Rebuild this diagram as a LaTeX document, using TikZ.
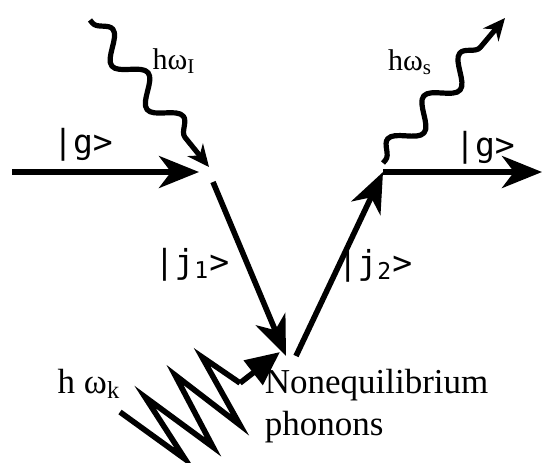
\documentclass[tikz,border=0pt]{standalone}
\usepackage{fontspec}
\setmainfont{Liberation Serif}
\newfontfamily\ketfont{DejaVu Sans Mono}
\usepackage{tikz}
\usetikzlibrary{arrows.meta, decorations.pathmorphing}
\tikzset{
  ket/.style={font=\ketfont\fontsize{16.5}{18}\selectfont, inner sep=0pt},
  freq/.style={font=\fontsize{15}{17}\selectfont, inner sep=0pt},
  phlabel/.style={font=\fontsize{17.5}{21}\selectfont, inner sep=0pt},
  photon/.style={decorate, line width=2.6pt, line join=round,
    decoration={snake, amplitude=6pt, segment length=28pt,
      pre length=2pt, post length=10pt},
    -{Stealth[length=11pt, width=10pt]}},
  phonon/.style={line width=2.8pt, line join=miter},
}

\begin{document}
\begin{tikzpicture}[x=0.5pt, y=-0.5pt, line width=2.8pt,
    >={Stealth[length=20pt, width=16pt, inset=6pt]}]
    \useasboundingbox (0,0) rectangle (544,462);
    % --- electron path ---
    \coordinate (gin)  at (12,172);
    \coordinate (vIa)  at (199,172);
    \coordinate (vIb)  at (213,182);
    \coordinate (vBa)  at (286,356);
    \coordinate (vBb)  at (296,356);
    \coordinate (vS)   at (383,172);
    \coordinate (gout) at (542,172);
    \draw[->] (gin) -- (vIa);
    \draw[->] (vIb) -- (vBa);
    \draw[->] (vBb) -- (vS);
    \draw[->] (vS) -- (gout);
    % --- photons ---
    \coordinate (phI) at (90,20);
    \coordinate (vIc) at (209,167);
    \coordinate (vSc) at (383,163);
    \coordinate (phS) at (505,18);
    \draw[photon] (phI) -- (vIc);
    \draw[photon] (vSc) -- (phS);
    % --- phonons ---
    \coordinate (zz) at (240,383);
    \coordinate (vBc) at (280,352);
    \draw[phonon] (120,412) -- (185,459) -- (145,397) -- (213,447)
        -- (175,375) -- (240,425) -- (202,357) -- (zz);
    \draw[-{Triangle[length=17pt, width=15pt]}] (zz) -- (vBc);
    % --- labels ---
    \node[ket] (gl) at (83,145) {|g>};
    \node[ket] (gr) at (485,148) {|g>};
    \node[ket] (j1) at (192,265) {|j\textsubscript{1}>};
    \node[ket] (j2) at (375,266) {|j\textsubscript{2}>};
    \node[freq] (wI) at (174,61) {hω\textsubscript{I}};
    \node[freq] (wS) at (410,62) {hω\textsubscript{s}};
    \node[phlabel] (wK) at (89,384) {h ω\textsubscript{k}};
    \node[phlabel, anchor=north west, align=left] (neq) at (262,366)
        {Nonequilibrium\\phonons};
\end{tikzpicture}
\end{document}
